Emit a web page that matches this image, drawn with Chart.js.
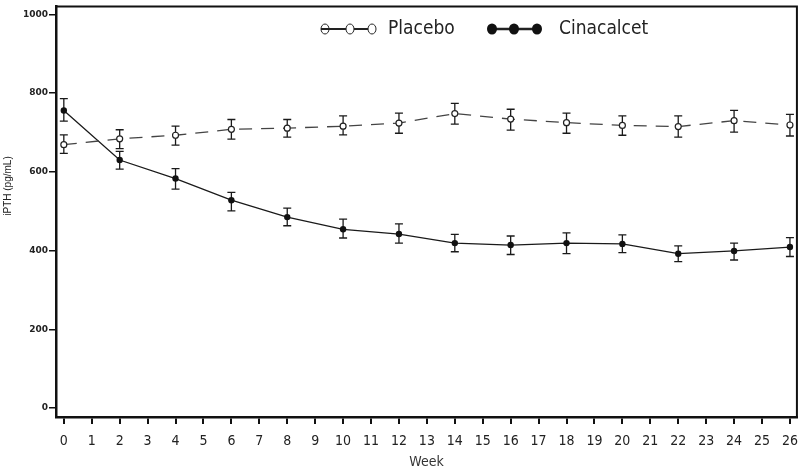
<!DOCTYPE html>
<html>
<head>
<meta charset="utf-8">
<script src="https://cdn.jsdelivr.net/npm/chart.js@4.4.1/dist/chart.umd.min.js"></script>
<style>
html,body{margin:0;padding:0;background:#fff;}
#wrap{width:807px;height:471px;position:relative;}
</style>
</head>
<body>
<div id="wrap"><canvas id="c" width="807" height="471"></canvas></div>
<script>
const weeks = [0, 2, 4, 6, 8, 10, 12, 14, 16, 18, 20, 22, 24, 26];
const placebo   = [669, 684, 693, 708, 711, 716, 724, 748, 734, 725, 718, 715, 730, 719];
const placeboHi = [694, 707, 716, 733, 733, 742, 749, 774, 759, 749, 742, 742, 756, 746];
const placeboLo = [647, 659, 668, 683, 688, 694, 698, 721, 706, 698, 693, 688, 701, 691];
const cinacalcet = [756, 630, 583, 528, 485, 454, 442, 419, 414, 419, 417, 392, 399, 409];
const cinaHi     = [786, 652, 608, 548, 508, 480, 468, 441, 437, 445, 440, 412, 419, 433];
const cinaLo     = [729, 607, 556, 501, 463, 432, 419, 397, 390, 392, 395, 372, 376, 385];
const xTickVals = [0,1,2,3,4,5,6,7,8,9,10,11,12,13,14,15,16,17,18,19,20,21,22,23,24,25,26];
const yTickVals = [0, 200, 400, 600, 800, 1000];
const seriesNames = ['Placebo', 'Cinacalcet'];
const xTitle = 'Week';
const yTitle = 'iPTH (pg/mL)';

const NARROW = '"Liberation Sans Narrow", "DejaVu Sans Condensed", "Liberation Sans", sans-serif';

const errorBars = {
  id: 'errorBars',
  beforeDatasetsDraw(chart) {
    const ctx = chart.ctx, xs = chart.scales.x, ys = chart.scales.y;
    const sets = [[placeboLo, placeboHi], [cinaLo, cinaHi]];
    ctx.save();
    ctx.strokeStyle = '#1a1a1a';
    ctx.lineWidth = 1.3;
    sets.forEach(([lo, hi]) => {
      weeks.forEach((w, i) => {
        const px = xs.getPixelForValue(w);
        const y1 = ys.getPixelForValue(lo[i]);
        const y2 = ys.getPixelForValue(hi[i]);
        ctx.beginPath();
        ctx.moveTo(px, y1); ctx.lineTo(px, y2);
        ctx.moveTo(px - 4, y1); ctx.lineTo(px + 4, y1);
        ctx.moveTo(px - 4, y2); ctx.lineTo(px + 4, y2);
        ctx.stroke();
      });
    });
    ctx.restore();
  },
  afterDraw(chart) {
    const ctx = chart.ctx, a = chart.chartArea;
    ctx.save();
    ctx.strokeStyle = '#111';
    ctx.lineWidth = 2;
    ctx.beginPath();
    ctx.moveTo(a.left, a.top); ctx.lineTo(a.right, a.top); ctx.lineTo(a.right, a.bottom);
    ctx.stroke();
    ctx.fillStyle = '#222';
    ctx.font = '10px "Liberation Sans", Arial, sans-serif';
    ctx.textAlign = 'center';
    ctx.textBaseline = 'middle';
    ctx.translate(8, 186);
    ctx.rotate(-Math.PI / 2);
    ctx.fillText(yTitle, 0, 0);
    ctx.restore();

    ctx.save();
    const ly = 29;
    ctx.strokeStyle = '#222';
    ctx.lineWidth = 2;
    ctx.beginPath(); ctx.moveTo(321, ly); ctx.lineTo(372, ly); ctx.stroke();
    [325, 350, 372].forEach((x, k) => {
      ctx.beginPath(); ctx.ellipse(x, ly, 4, 5, 0, 0, Math.PI * 2);
      if (k > 0) { ctx.fillStyle = '#fff'; ctx.fill(); }
      ctx.lineWidth = 1; ctx.stroke();
    });
    ctx.lineWidth = 2.5;
    ctx.beginPath(); ctx.moveTo(492, ly); ctx.lineTo(537, ly); ctx.stroke();
    ctx.fillStyle = '#111';
    [492, 514, 537].forEach(x => {
      ctx.beginPath(); ctx.ellipse(x, ly, 5, 5.5, 0, 0, Math.PI * 2); ctx.fill();
    });
    ctx.fillStyle = '#222';
    ctx.font = '19px ' + NARROW;
    ctx.textAlign = 'left';
    ctx.textBaseline = 'middle';
    ctx.fillText(seriesNames[0], 388, ly);
    ctx.fillText(seriesNames[1], 559, ly);
    ctx.restore();
  }
};

const chart = new Chart(document.getElementById('c'), {
  type: 'line',
  data: {
    datasets: [
      {
        label: seriesNames[0],
        data: weeks.map((w, i) => ({ x: w, y: placebo[i] })),
        borderColor: '#444',
        borderWidth: 1.3,
        borderDash: [13, 9],
        pointRadius: 3,
        pointBorderWidth: 1.2,
        pointBackgroundColor: '#fff',
        pointBorderColor: '#222',
        tension: 0
      },
      {
        label: seriesNames[1],
        data: weeks.map((w, i) => ({ x: w, y: cinacalcet[i] })),
        borderColor: '#1a1a1a',
        borderWidth: 1.3,
        pointRadius: 3.2,
        pointBorderWidth: 0,
        pointBackgroundColor: '#111',
        pointBorderColor: '#111',
        tension: 0
      }
    ]
  },
  options: {
    responsive: false,
    animation: false,
    devicePixelRatio: 1,
    layout: { padding: { top: 5, right: 5, left: 0, bottom: 0 } },
    plugins: { legend: { display: false }, tooltip: { enabled: false } },
    scales: {
      x: {
        type: 'linear',
        min: -0.28,
        max: 26.25,
        afterBuildTicks(s) { s.ticks = xTickVals.map(v => ({ value: v })); },
        afterFit(s) { s.height = 54; },
        border: { display: true, color: '#111', width: 2.5 },
        grid: { drawOnChartArea: false, drawTicks: true, tickLength: 7, color: '#111', tickColor: '#111', lineWidth: 2 },
        ticks: { color: '#222', padding: 9, maxRotation: 0, autoSkip: false, callback: v => String(v), font: { family: NARROW, size: 14 } },
        title: { display: true, text: xTitle, color: '#333', padding: { top: 0, bottom: 0 }, font: { family: NARROW, size: 14 } }
      },
      y: {
        type: 'linear',
        min: -22.8,
        max: 1020.3,
        afterBuildTicks(s) { s.ticks = yTickVals.map(v => ({ value: v })); },
        afterFit(s) { s.width = 56; },
        border: { display: true, color: '#111', width: 2.5 },
        grid: { drawOnChartArea: false, drawTicks: true, tickLength: 7, color: '#111', tickColor: '#111', lineWidth: 1.5 },
        ticks: { color: '#222', padding: 1, callback: v => String(v), font: { family: '"DejaVu Sans", sans-serif', size: 9, weight: 'bold' } },
        title: { display: false }
      }
    }
  },
  plugins: [errorBars]
});
</script>
</body>
</html>
